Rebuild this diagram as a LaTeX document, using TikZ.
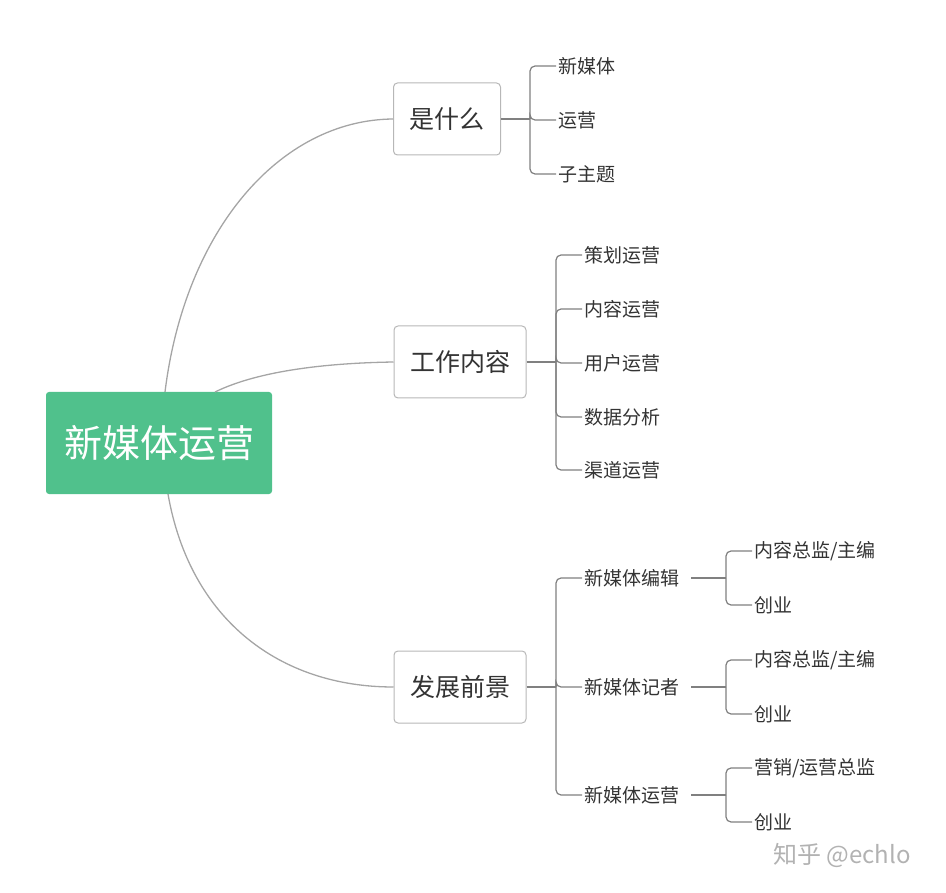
\documentclass[tikz,border=0pt]{standalone}
\usepackage{fontspec}
\setmainfont{Noto Sans CJK SC}
\usetikzlibrary{positioning}
\definecolor{rootgreen}{RGB}{80,193,140}
\definecolor{linegray}{RGB}{165,165,165}
\definecolor{txt}{RGB}{51,51,51}
\tikzset{
  rootbox/.style={fill=rootgreen, rounded corners=3pt, text=white, minimum width=226pt, minimum height=102pt, font=\fontsize{38}{40}\selectfont},
  topicbox/.style={draw=linegray!80, line width=1pt, rounded corners=4pt, text=txt, minimum height=72pt, inner xsep=16pt, font=\fontsize{25}{27}\selectfont},
  leaf/.style={anchor=west, text=txt, inner xsep=2pt, font=\fontsize{19}{21}\selectfont},
  link/.style={draw=linegray, line width=1.3pt},
  brace/.style={draw=gray, line width=1.2pt, rounded corners=5pt}
}
\begin{document}
\begin{tikzpicture}[x=1pt,y=-1pt]
  \useasboundingbox (0,0) rectangle (946,893);

  \node[rootbox] (root) at (159,443) {新媒体运营};
  \node[topicbox] (what) at (447,119) {是什么};
  \node[topicbox] (work) at (460,362) {工作内容};
  \node[topicbox] (future) at (460,687) {发展前景};

  % main branches
  \draw[link] (165,392) .. controls (185,230) and (280,120) .. (what.west);
  \draw[link] (215,392) .. controls (260,370) and (330,363) .. (work.west);
  \draw[link] (168,494) .. controls (190,620) and (280,687) .. (future.west);

  % is-what leaves
  \coordinate (j1) at (530,119);
  \draw[brace] (what.east) -- (j1);
  \node[leaf] (w1) at (556,66) {新媒体};
  \node[leaf] (w2) at (556,120) {运营};
  \node[leaf] (w3) at (556,174) {子主题};
  \foreach \n in {w1,w2,w3} \draw[brace] (j1) |- (\n.west);

  % work leaves
  \coordinate (j2) at (556,362);
  \draw[brace] (work.east) -- (j2);
  \node[leaf] (k1) at (582,255) {策划运营};
  \node[leaf] (k2) at (582,309) {内容运营};
  \node[leaf] (k3) at (582,363) {用户运营};
  \node[leaf] (k4) at (582,417) {数据分析};
  \node[leaf] (k5) at (582,470) {渠道运营};
  \foreach \n in {k1,k2,k3,k4,k5} \draw[brace] (j2) |- (\n.west);

  % future leaves
  \coordinate (j3) at (556,687);
  \draw[brace] (future.east) -- (j3);
  \node[leaf] (f1) at (582,578) {新媒体编辑};
  \node[leaf] (f2) at (582,687) {新媒体记者};
  \node[leaf] (f3) at (582,795) {新媒体运营};
  \foreach \n in {f1,f2,f3} \draw[brace] (j3) |- (\n.west);

  \node[leaf] (f1a) at (752,551) {内容总监/主编};
  \node[leaf] (f1b) at (752,605) {创业};
  \node[leaf] (f2a) at (752,660) {内容总监/主编};
  \node[leaf] (f2b) at (752,714) {创业};
  \node[leaf] (f3a) at (752,768) {营销/运营总监};
  \node[leaf] (f3b) at (752,822) {创业};
  \foreach \p/\a/\b in {f1/f1a/f1b,f2/f2a/f2b,f3/f3a/f3b}{
    \coordinate (\p j) at (726,0 |- \p.east);
    \draw[brace] ([xshift=10pt]\p.east) -- (\p j);
    \draw[brace] (\p j) |- (\a.west);
    \draw[brace] (\p j) |- (\b.west);
  }

  \node[text=gray!60, font=\fontsize{24}{26}\selectfont] (mark) at (842,855) {知乎 @echlo};
\end{tikzpicture}
\end{document}
